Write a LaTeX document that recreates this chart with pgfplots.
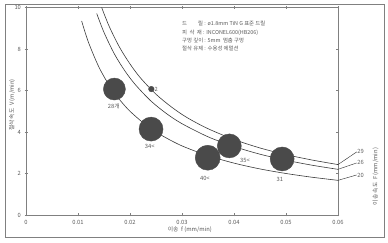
\documentclass[border=0pt]{standalone}
\usepackage{fontspec}
\setmainfont{Noto Sans CJK KR}
\usepackage{pgfplots}
\pgfplotsset{compat=1.18}
\definecolor{dotc}{HTML}{4A4A4A}
\definecolor{txt}{HTML}{5A5A5A}
\definecolor{axc}{HTML}{808080}
\definecolor{crv}{HTML}{3A3A3A}
\begin{document}
\begin{tikzpicture}
\useasboundingbox (-26pt,-28pt) rectangle (362pt,215pt);
\draw[axc, line width=0.7pt] (-20.5pt,-22.5pt) rectangle (358.5pt,211pt);
\begin{axis}[
  scale only axis, width=312pt, height=207.5pt,
  xmin=0, xmax=0.06, ymin=0, ymax=10,
  scaled x ticks=false, scaled y ticks=false,
  xtick={0,0.01,0.02,0.03,0.04,0.05,0.06},
  xticklabels={0,0.01,0.02,0.03,0.04,0.05,0.06},
  ytick={0,2,4,6,8,10},
  tick align=center, major tick length=3pt,
  tick style={axc, line width=0.5pt},
  axis line style={axc, line width=0.7pt},
  ticklabel style={font=\fontsize{5.8}{6}\selectfont, text=txt},
  /pgf/number format/assume math mode=true,
  clip=false,
]
% curves
\addplot[crv, line width=0.6pt, smooth] coordinates {
 (0.0107,9.35) (0.012,8.33) (0.014,7.14) (0.016,6.25) (0.018,5.56) (0.020,5.00)
 (0.023,4.35) (0.026,3.85) (0.030,3.33) (0.035,2.86) (0.040,2.50) (0.045,2.22)
 (0.050,2.00) (0.055,1.82) (0.060,1.67)};
\addplot[crv, line width=0.6pt, smooth] coordinates {
 (0.0136,9.71) (0.015,8.80) (0.017,7.76) (0.019,6.95) (0.021,6.29) (0.024,5.50)
 (0.027,4.89) (0.030,4.40) (0.035,3.77) (0.040,3.30) (0.045,2.93) (0.050,2.64)
 (0.055,2.40) (0.060,2.20)};
\addplot[crv, line width=0.6pt, smooth] coordinates {
 (0.01455,10.0) (0.016,9.09) (0.018,8.08) (0.020,7.28) (0.022,6.61) (0.025,5.82)
 (0.028,5.20) (0.031,4.69) (0.035,4.16) (0.040,3.64) (0.045,3.23) (0.050,2.91)
 (0.055,2.65) (0.060,2.43)};
% leader lines
\addplot[crv, line width=0.45pt] coordinates {(0.060,2.43) (0.0636,3.04)};
\addplot[crv, line width=0.45pt] coordinates {(0.060,2.20) (0.0636,2.51)};
\addplot[crv, line width=0.45pt] coordinates {(0.060,1.67) (0.0636,1.93)};
% dots
\addplot[only marks, mark=*, mark size=11pt, dotc, mark options={draw=dotc, fill=dotc}] coordinates {(0.0170,6.07)};
\addplot[only marks, mark=*, mark size=12pt, dotc, mark options={draw=dotc, fill=dotc}] coordinates {(0.02405,4.14)};
\addplot[only marks, mark=*, mark size=12.5pt, dotc, mark options={draw=dotc, fill=dotc}] coordinates {(0.03495,2.76)};
\addplot[only marks, mark=*, mark size=12pt, dotc, mark options={draw=dotc, fill=dotc}] coordinates {(0.0391,3.33)};
\addplot[only marks, mark=*, mark size=12pt, dotc, mark options={draw=dotc, fill=dotc}] coordinates {(0.04926,2.70)};
\addplot[only marks, mark=*, mark size=2.8pt, dotc, mark options={draw=dotc, fill=dotc}] coordinates {(0.0241,6.07)};
% dot labels
\begin{scope}[every node/.style={font=\fontsize{5.8}{6}\selectfont, text=txt, inner sep=0pt}]
\node at (axis cs:0.0169,5.25) {28개};
\node at (axis cs:0.0238,3.30) {34<};
\node at (axis cs:0.0344,1.78) {40<};
\node at (axis cs:0.0421,2.65) {35<};
\node at (axis cs:0.0488,1.73) {31};
\node[anchor=west] at (axis cs:0.0247,6.07) {2};
\node[anchor=west] at (axis cs:0.0637,3.04) {29};
\node[anchor=west] at (axis cs:0.0637,2.51) {26};
\node[anchor=west] at (axis cs:0.0637,1.93) {20};
\node[rotate=90] at (axis cs:0.0672,1.85) {이송 속도 \ \textit{F} (mm/min)};
\node[rotate=90] at (axis cs:-0.0027,5.3) {절삭 속도 \ \textit{V} (m/min)};
\node at (axis cs:0.0315,-0.72) {이송 \ \textit{f} (mm/min)};
\node[anchor=north west, align=left, font=\fontsize{5.4}{8.4}\selectfont] at (axis cs:0.0300,9.35)
 {드\hspace{2.05em}릴 : ø1.8mm TiN G 표준 드릴\\
  피\hspace{0.45em}삭\hspace{0.45em}재 : INCONEL600(HB206)\\
  구멍 깊이 : 5mm \ 멈춤 구멍\\
  절삭 유제 : 수용성 에멀션};
\end{scope}
\end{axis}
\end{tikzpicture}
\end{document}
